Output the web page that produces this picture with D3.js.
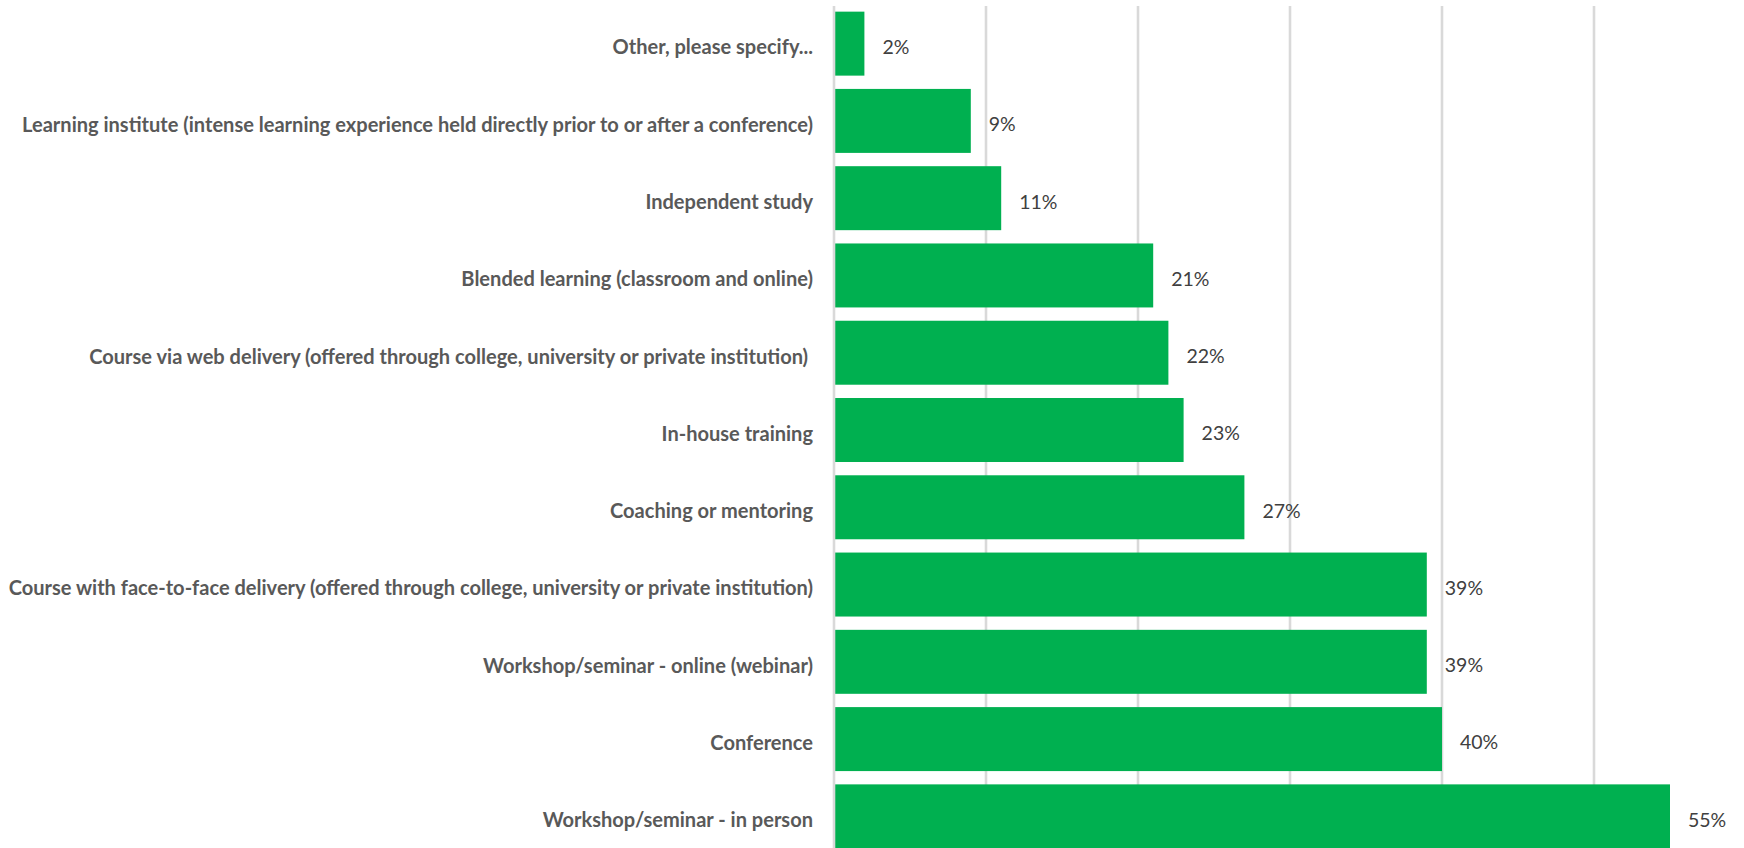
<!DOCTYPE html>
<html>
<head>
<meta charset="utf-8">
<script src="https://cdn.jsdelivr.net/npm/d3@7"></script>
<style>
  html, body { margin: 0; padding: 0; background: #ffffff; overflow: hidden; }
  svg { display: block; }
  text { white-space: pre; }
</style>
</head>
<body>
<svg id="chart" width="1744" height="848"></svg>
<script>
// Types of professional learning activities (share of respondents, %)
const categories = [
  "Other, please specify...",
  "Learning institute (intense learning experience held directly prior to or after a conference)",
  "Independent study",
  "Blended learning (classroom and online)",
  "Course via web delivery (offered through college, university or private institution) ",
  "In-house training",
  "Coaching or mentoring",
  "Course with face-to-face delivery (offered through college, university or private institution)",
  "Workshop/seminar - online (webinar)",
  "Conference",
  "Workshop/seminar - in person"
];
const values = [2, 9, 11, 21, 22, 23, 27, 39, 39, 40, 55];
const gridTicks = [0, 10, 20, 30, 40, 50, 60];

const svg = d3.select("#chart");
const W = 1744, H = 848;
const x0 = 834;            // value axis origin
const labelGap = 21;
const textShift = 3.5;     // text sits slightly below the band centre

const x = d3.scaleLinear().domain([0, 10]).range([x0, x0 + 152]);
const y = d3.scaleBand()
  .domain(categories)
  .range([5, 855])
  .paddingInner(0.172)
  .paddingOuter(0.086);

// vertical gridlines
svg.append("g")
  .selectAll("line")
  .data(gridTicks.filter(t => t > 0))
  .join("line")
  .attr("x1", d => x(d)).attr("x2", d => x(d))
  .attr("y1", 6).attr("y2", H)
  .attr("stroke", "#d9d9d9")
  .attr("stroke-width", 2.6);

// bars
svg.append("g")
  .selectAll("rect")
  .data(values)
  .join("rect")
  .attr("x", x(0) + 1)
  .attr("y", (d, i) => y(categories[i]))
  .attr("width", d => x(d) - x(0) - 1)
  .attr("height", y.bandwidth())
  .attr("fill", "#00b050");

// category axis line
svg.append("line")
  .attr("x1", x(0)).attr("x2", x(0))
  .attr("y1", 6).attr("y2", H)
  .attr("stroke", "#d9d9d9")
  .attr("stroke-width", 2.6);

// value labels
svg.append("g")
  .selectAll("text")
  .data(values)
  .join("text")
  .attr("x", d => x(d) + 18)
  .attr("y", (d, i) => y(categories[i]) + y.bandwidth() / 2 + textShift)
  .attr("dy", "0.35em")
  .attr("font-family", "Lato, 'Open Sans', sans-serif")
  .attr("font-size", 19.5)
  .attr("fill", "#404040")
  .text(d => d + "%");

// category labels, compressed horizontally to a Calibri-like width
const labelG = svg.append("g");
const inner = labelG.append("g");
inner.selectAll("text")
  .data(categories)
  .join("text")
  .attr("x", 0)
  .attr("y", d => y(d) + y.bandwidth() / 2 + textShift)
  .attr("dy", "0.35em")
  .attr("text-anchor", "end")
  .attr("font-family", "Lato, 'Open Sans', sans-serif")
  .attr("font-weight", "bold")
  .attr("font-size", 21)
  .attr("fill", "#595959")
  .text(d => d);

let maxW = 0;
inner.selectAll("text").each(function () {
  maxW = Math.max(maxW, this.getComputedTextLength());
});
const targetW = 805;
const sx = maxW > targetW ? targetW / maxW : 1;
labelG.attr("transform", `translate(${x0 - labelGap},0) scale(${sx},1)`);
</script>
</body>
</html>
